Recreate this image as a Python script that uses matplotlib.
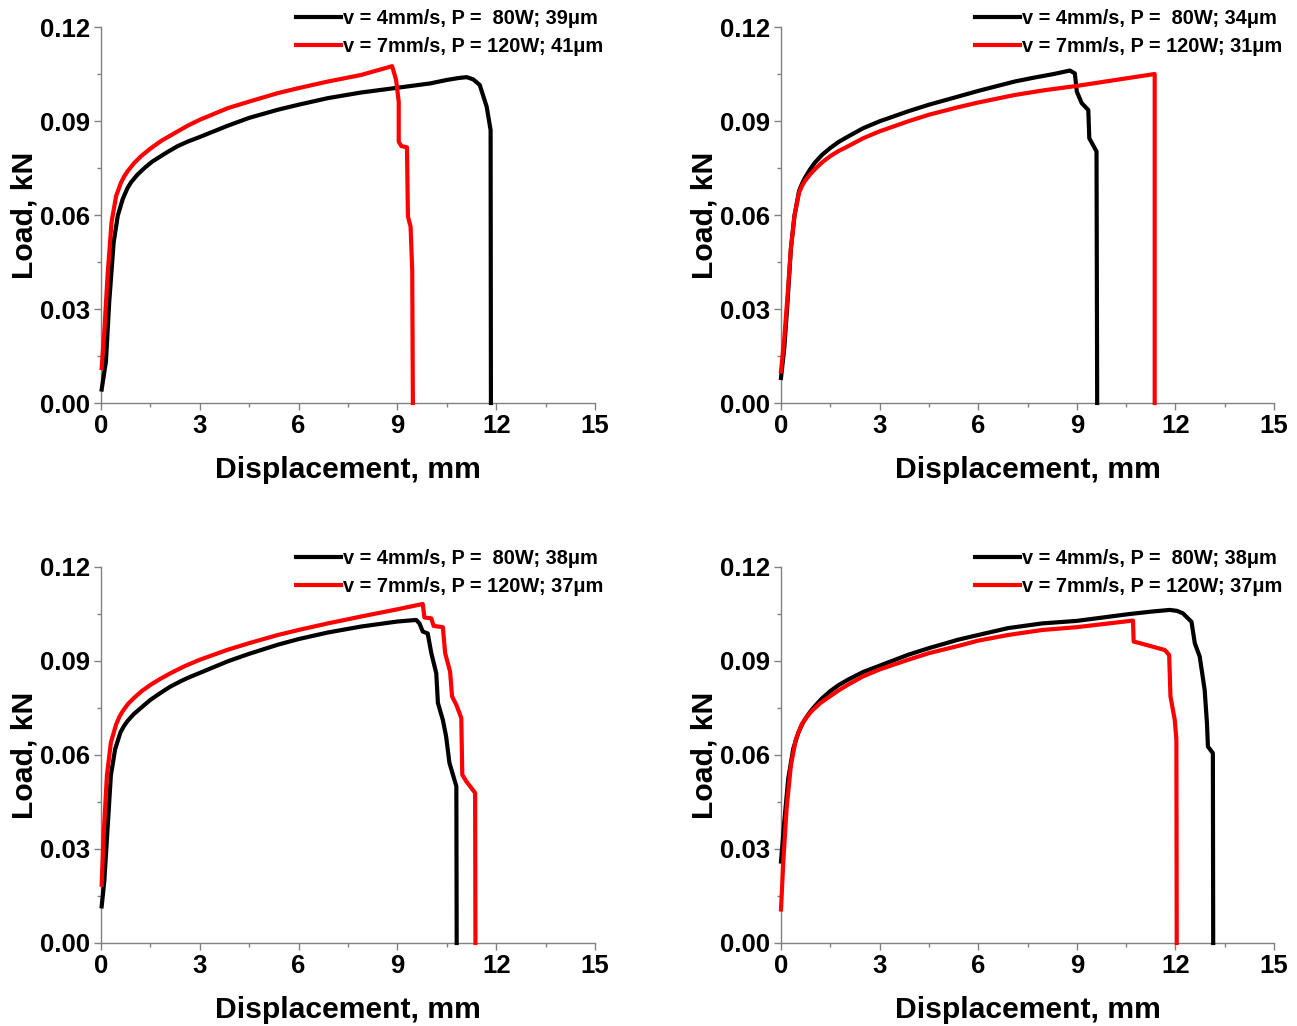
import matplotlib.pyplot as plt
from matplotlib.ticker import MultipleLocator, FormatStrFormatter

plt.rcParams['font.family'] = ['Liberation Sans', 'DejaVu Sans']
plt.rcParams['font.weight'] = 'bold'

# --- load–displacement curves, four specimens ---
# top left
disp_a1 = [0.02, 0.15, 0.25, 0.385, 0.51, 0.66, 0.8, 0.91, 1.1, 1.32, 1.55, 1.82, 2.05, 2.33,
           2.65, 3.0, 3.85, 4.5, 5.37, 6.0, 6.89, 7.9, 8.92, 10.0, 10.5, 10.85, 11.1, 11.3, 11.5,
           11.71, 11.83, 11.84]
load_a1 = [0.0043, 0.0133, 0.0323, 0.0513, 0.0598, 0.0651, 0.0685, 0.0704, 0.0728, 0.075, 0.077,
           0.0788, 0.0803, 0.082, 0.0835, 0.0849, 0.0885, 0.091, 0.0936, 0.0952, 0.0973, 0.0991,
           0.1005, 0.102, 0.1031, 0.1037, 0.1040, 0.1033, 0.1015, 0.0946, 0.0871, 0.0]
disp_a2 = [0.02, 0.1, 0.2, 0.32, 0.46, 0.61, 0.71, 0.81, 1.0, 1.22, 1.5, 1.82, 2.05, 2.33, 2.65,
           3.0, 3.85, 4.5, 5.37, 6.0, 6.89, 7.9, 8.84, 8.96, 9.04, 9.04, 9.12, 9.29, 9.32, 9.40,
           9.45, 9.47]
load_a2 = [0.0112, 0.0228, 0.0408, 0.0577, 0.0661, 0.0704, 0.0724, 0.074, 0.0765, 0.0788, 0.0812,
           0.0836, 0.085, 0.0867, 0.0886, 0.0904, 0.0941, 0.0962, 0.0989, 0.1005, 0.1026, 0.1047,
           0.1075, 0.1031, 0.0962, 0.0834, 0.082, 0.0816, 0.0595, 0.0563, 0.0424, 0.0]

# top right
disp_b1 = [0.0, 0.1, 0.2, 0.3, 0.41, 0.55, 0.64, 0.73, 0.88, 1.03, 1.25, 1.5, 1.75, 2.05, 2.5,
           3.0, 3.87, 4.5, 5.39, 6.0, 7.11, 7.68, 8.3, 8.79, 8.94, 9.0, 9.15, 9.35, 9.38, 9.60,
           9.62]
load_b1 = [0.008, 0.0175, 0.0323, 0.0492, 0.0598, 0.0677, 0.0700, 0.0719, 0.0745, 0.0767, 0.0792,
           0.0814, 0.0833, 0.0851, 0.0877, 0.0899, 0.0931, 0.0952, 0.0978, 0.0996, 0.1026,
           0.1038, 0.105, 0.1061, 0.1052, 0.0994, 0.0957, 0.0935, 0.0845, 0.0803, 0.0]
disp_b2 = [0.0, 0.1, 0.2, 0.3, 0.41, 0.55, 0.64, 0.73, 0.88, 1.03, 1.25, 1.5, 1.75, 2.05, 2.5,
           3.0, 3.87, 4.5, 5.39, 6.0, 7.11, 8.0, 9.0, 10.0, 11.37, 11.37]
load_b2 = [0.0101, 0.0207, 0.0344, 0.0492, 0.0598, 0.0672, 0.0693, 0.0709, 0.0729, 0.0746,
           0.0768, 0.0788, 0.0804, 0.082, 0.0845, 0.0867, 0.0899, 0.092, 0.0944, 0.0959, 0.0983,
           0.0998, 0.1012, 0.1028, 0.105, 0.0]

# bottom left
disp_c1 = [0.02, 0.1, 0.2, 0.3, 0.43, 0.59, 0.7, 0.81, 1.0, 1.22, 1.5, 1.82, 2.1, 2.43, 2.7, 3.0,
           3.85, 4.5, 5.37, 6.0, 6.89, 7.9, 9.0, 9.57, 9.67, 9.77, 9.92, 10.03, 10.18, 10.23,
           10.38, 10.48, 10.58, 10.79, 10.80]
load_c1 = [0.0117, 0.0197, 0.0366, 0.0535, 0.0619, 0.0672, 0.0693, 0.0709, 0.0731, 0.0751, 0.0776,
           0.0799, 0.0818, 0.0836, 0.0849, 0.0862, 0.0899, 0.0923, 0.0952, 0.097, 0.0991, 0.101,
           0.1026, 0.1031, 0.102, 0.0994, 0.0988, 0.0925, 0.0861, 0.0766, 0.0712, 0.0659, 0.0575,
           0.05, 0.0]
disp_c2 = [0.02, 0.08, 0.18, 0.3, 0.46, 0.56, 0.66, 0.82, 1.01, 1.25, 1.52, 1.8, 2.13, 2.55, 3.0,
           3.85, 4.5, 5.37, 6.0, 6.89, 7.9, 9.0, 9.77, 9.82, 10.03, 10.1, 10.38, 10.45, 10.6,
           10.66, 10.79, 10.94, 10.97, 11.09, 11.36, 11.37]
load_c2 = [0.0186, 0.0345, 0.0535, 0.064, 0.0698, 0.0722, 0.074, 0.0763, 0.0783, 0.0805, 0.0825,
           0.0843, 0.0862, 0.0884, 0.0904, 0.0936, 0.0957, 0.0983, 0.0999, 0.102, 0.1042, 0.1065,
           0.1082, 0.1039, 0.1036, 0.1012, 0.1008, 0.0925, 0.0866, 0.0787, 0.076, 0.0718, 0.0537,
           0.0516, 0.0479, 0.0]

# bottom right
disp_d1 = [0.0, 0.1, 0.22, 0.37, 0.53, 0.63, 0.73, 0.88, 1.03, 1.25, 1.5, 1.75, 2.05, 2.5, 3.0,
           3.87, 4.5, 5.39, 6.0, 6.91, 7.95, 9.0, 10.61, 11.3, 11.83, 12.05, 12.23, 12.49, 12.59,
           12.74, 12.89, 12.96, 12.99, 13.14, 13.15]
load_d1 = [0.026, 0.0387, 0.0524, 0.0619, 0.0672, 0.0695, 0.0714, 0.0737, 0.0756, 0.0781, 0.0804,
           0.0823, 0.0841, 0.0865, 0.0885, 0.092, 0.0941, 0.0968, 0.0983, 0.1005, 0.102, 0.1028,
           0.105, 0.1058, 0.1063, 0.106, 0.1052, 0.1025, 0.0957, 0.0914, 0.0808, 0.0702, 0.0627,
           0.0606, 0.0]
disp_d2 = [0.0, 0.07, 0.17, 0.3, 0.45, 0.63, 0.78, 0.93, 1.2, 1.5, 1.75, 2.05, 2.5, 3.0, 3.87,
           4.5, 5.39, 6.0, 6.91, 7.95, 9.0, 10.71, 10.73, 10.92, 11.68, 11.81, 11.85, 11.98,
           12.03, 12.04]
load_d2 = [0.0107, 0.026, 0.0429, 0.0566, 0.065, 0.0698, 0.0721, 0.074, 0.0766, 0.0788, 0.0806,
           0.0825, 0.0851, 0.0873, 0.0904, 0.0925, 0.0948, 0.0965, 0.0983, 0.0999, 0.1008,
           0.1029, 0.0962, 0.0957, 0.0935, 0.0919, 0.0787, 0.0712, 0.0649, 0.0]

labels_1 = ["v = 4mm/s, P =  80W; 39μm", "v = 4mm/s, P =  80W; 34μm",
            "v = 4mm/s, P =  80W; 38μm", "v = 4mm/s, P =  80W; 38μm"]
labels_2 = ["v = 7mm/s, P = 120W; 41μm", "v = 7mm/s, P = 120W; 31μm",
            "v = 7mm/s, P = 120W; 37μm", "v = 7mm/s, P = 120W; 37μm"]

panels = [
    (disp_a1, load_a1, disp_a2, load_a2),
    (disp_b1, load_b1, disp_b2, load_b2),
    (disp_c1, load_c1, disp_c2, load_c2),
    (disp_d1, load_d1, disp_d2, load_d2),
]

W, H = 1297, 1026
fig = plt.figure(figsize=(W / 100, H / 100), dpi=100)

# axes boxes in pixels: left, top, right, bottom
boxes = [(101, 27, 595, 403), (781, 27, 1274, 403),
         (101, 567, 595, 943), (781, 567, 1274, 943)]

for i, (box, (x1, y1, x2, y2)) in enumerate(zip(boxes, panels)):
    l, t, r, b = box
    ax = fig.add_axes([l / W, 1 - b / H, (r - l) / W, (b - t) / H])
    ax.plot(x1, y1, color='black', lw=3, label=labels_1[i], clip_on=False, zorder=3,
            solid_joinstyle='round')
    ax.plot(x2, y2, color='#ff0000', lw=3, label=labels_2[i], clip_on=False, zorder=3,
            solid_joinstyle='round')

    ax.set_xlim(0, 15)
    ax.set_ylim(0, 0.12)
    ax.xaxis.set_major_locator(MultipleLocator(3))
    ax.xaxis.set_minor_locator(MultipleLocator(1.5))
    ax.yaxis.set_major_locator(MultipleLocator(0.03))
    ax.yaxis.set_minor_locator(MultipleLocator(0.015))
    ax.yaxis.set_major_formatter(FormatStrFormatter('%.2f'))

    for side in ['top', 'right']:
        ax.spines[side].set_visible(False)
    for side in ['left', 'bottom']:
        ax.spines[side].set_color('#808080')
        ax.spines[side].set_linewidth(1.0)

    ax.tick_params(which='major', direction='out', length=5, width=1, color='#808080',
                   labelsize=18.5, pad=3)
    ax.tick_params(which='minor', direction='out', length=3, width=1, color='#808080')
    for lab in ax.get_xticklabels() + ax.get_yticklabels():
        lab.set_fontweight('bold')

    ax.set_xlabel("Displacement, mm", fontsize=21.7, fontweight='bold', labelpad=13)
    ax.set_ylabel("Load, kN", fontsize=21.7, fontweight='bold', labelpad=1)

    ax.legend(loc='upper right', bbox_to_anchor=(1.016, 1.047), frameon=False,
              prop={'size': 14.4, 'weight': 'bold'}, handlelength=2.25, handletextpad=0.1,
              labelspacing=0.43, borderaxespad=0, borderpad=0)

fig.savefig("out.png", dpi=100)
